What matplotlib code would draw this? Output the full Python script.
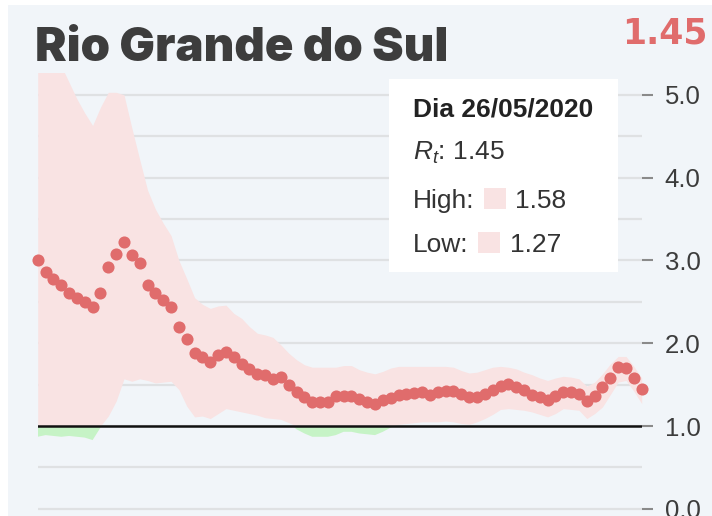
import numpy as np
import pandas as pd
import matplotlib
matplotlib.use('Agg')
import matplotlib.pyplot as plt
from matplotlib.patches import Rectangle

plt.rcParams['font.family'] = ['Liberation Sans', 'DejaVu Sans']
plt.rcParams['mathtext.fontset'] = 'custom'
plt.rcParams['mathtext.it'] = 'Liberation Sans:italic'
plt.rcParams['mathtext.rm'] = 'Liberation Sans'

# Rt estimates per day for Rio Grande do Sul, ending 26/05/2020
rt = [3.00, 2.86, 2.78, 2.70, 2.61, 2.55, 2.50, 2.44, 2.61, 2.92,
      3.08, 3.22, 3.06, 2.97, 2.70, 2.61, 2.52, 2.44, 2.19, 2.05,
      1.88, 1.83, 1.77, 1.86, 1.89, 1.83, 1.75, 1.69, 1.63, 1.61,
      1.57, 1.59, 1.50, 1.41, 1.35, 1.29, 1.29, 1.29, 1.36, 1.36,
      1.36, 1.33, 1.29, 1.26, 1.31, 1.34, 1.37, 1.39, 1.40, 1.41,
      1.37, 1.41, 1.42, 1.42, 1.39, 1.35, 1.35, 1.39, 1.43, 1.48,
      1.51, 1.47, 1.44, 1.38, 1.35, 1.32, 1.36, 1.41, 1.41, 1.39,
      1.30, 1.36, 1.47, 1.58, 1.71, 1.70, 1.58, 1.45]
high = [5.40, 5.40, 5.40, 5.35, 5.15, 4.95, 4.78, 4.63, 4.85, 5.03,
        5.03, 5.00, 4.60, 4.22, 3.85, 3.62, 3.45, 3.30, 3.00, 2.78,
        2.55, 2.47, 2.42, 2.45, 2.46, 2.36, 2.30, 2.20, 2.12, 2.10,
        2.07, 1.98, 1.88, 1.80, 1.74, 1.71, 1.71, 1.71, 1.71, 1.73,
        1.73, 1.68, 1.65, 1.63, 1.66, 1.70, 1.72, 1.72, 1.72, 1.72,
        1.72, 1.72, 1.72, 1.71, 1.67, 1.64, 1.65, 1.68, 1.71, 1.72,
        1.71, 1.69, 1.65, 1.62, 1.58, 1.55, 1.58, 1.60, 1.59, 1.57,
        1.48, 1.53, 1.63, 1.75, 1.84, 1.84, 1.72, 1.58]
low = [0.87, 0.89, 0.88, 0.87, 0.88, 0.87, 0.86, 0.83, 0.98, 1.12,
       1.30, 1.57, 1.54, 1.57, 1.55, 1.52, 1.53, 1.54, 1.44, 1.24,
       1.11, 1.12, 1.09, 1.15, 1.21, 1.19, 1.17, 1.15, 1.13, 1.10,
       1.09, 1.08, 1.04, 0.96, 0.91, 0.87, 0.87, 0.87, 0.89, 0.93,
       0.93, 0.91, 0.90, 0.89, 0.93, 0.98, 1.02, 1.03, 1.04, 1.05,
       1.05, 1.05, 1.06, 1.05, 1.03, 1.02, 1.05, 1.09, 1.14, 1.20,
       1.21, 1.20, 1.19, 1.17, 1.14, 1.11, 1.15, 1.21, 1.20, 1.19,
       1.09, 1.15, 1.23, 1.38, 1.53, 1.55, 1.42, 1.27]
yticks = [0, 1, 2, 3, 4, 5]
title = 'Rio Grande do Sul'
last_day = '26/05/2020'

dates = pd.date_range(end=pd.to_datetime(last_day, dayfirst=True), periods=len(rt))
rt = np.array(rt)
high = np.array(high)
low = np.array(low)

bg = '#f1f5f9'
red = '#e06c6c'
W, H = 712, 516

fig = plt.figure(figsize=(W / 100, H / 100), dpi=100)
fig.patch.set_facecolor('white')
# light panel, leaving a thin white strip at left and top like the screenshot
fig.patches.append(Rectangle((8 / W, 0), 1, 1 - 5 / H, transform=fig.transFigure,
                             facecolor=bg, edgecolor='none', zorder=-10))

ax = fig.add_axes([37.7 / W, 0, 604 / W, (516 - 73) / H])
ax.set_facecolor('none')
ax.set_xlim(dates[0], dates[-1])
ax.set_ylim((508.8 - 516) / 82.8, (508.8 - 73) / 82.8)

for g in np.arange(0, 5.01, 0.5):
    ax.axhline(g, color='#dfe1e3', lw=1.6, zorder=0)

ax.fill_between(dates, np.maximum(low, 1), high, where=high > 1, interpolate=True,
                color='#f9e3e3', lw=0, zorder=1)
ax.fill_between(dates, low, np.minimum(high, 1), where=low < 1, interpolate=True,
                color='#c6f3c6', lw=0, zorder=1)
ax.axhline(1, color='#111111', lw=1.8, zorder=2)
ax.scatter(dates, rt, s=76, color=red, lw=0, zorder=3, clip_on=False)

ax.yaxis.tick_right()
ax.set_yticks(yticks)
ax.set_yticklabels(['%.1f' % t for t in yticks])
ax.tick_params(axis='y', length=8, width=1.5, color='#8a8a8a', pad=8.5,
               labelsize=18.5, labelcolor='#3c3c3c')
ax.set_xticks([])
for s in ax.spines.values():
    s.set_visible(False)

fig.text(35 / W, 1 - 61 / H, title, fontsize=34, fontweight=900,
         family=['Inter', 'DejaVu Sans'], color='#3d3d3d', va='baseline')
fig.text(708 / W, 1 - 43.5 / H, '%.2f' % rt[-1], fontsize=25, fontweight='bold',
         family='DejaVu Sans', color=red, ha='right', va='baseline')

# tooltip box for the last day
fig.patches.append(Rectangle((389 / W, 1 - 272 / H), 229 / W, 193 / H,
                             transform=fig.transFigure, facecolor='white',
                             edgecolor='none', zorder=5))
fs = 19
fig.text(413 / W, 1 - 116.5 / H, 'Dia ' + dates[-1].strftime('%d/%m/%Y'),
         fontsize=fs, fontweight='bold', color='#222222', va='baseline', zorder=6)
fig.text(413 / W, 1 - 160 / H, r'$R_t$: %.2f' % rt[-1], fontsize=fs,
         color='#333333', va='baseline', zorder=6)
fig.text(413 / W, 1 - 208 / H, 'High:', fontsize=fs, color='#333333',
         va='baseline', zorder=6)
fig.text(515 / W, 1 - 208 / H, '%.2f' % high[-1], fontsize=fs, color='#333333',
         va='baseline', zorder=6)
fig.text(413 / W, 1 - 252.5 / H, 'Low:', fontsize=fs, color='#333333',
         va='baseline', zorder=6)
fig.text(510 / W, 1 - 252.5 / H, '%.2f' % low[-1], fontsize=fs, color='#333333',
         va='baseline', zorder=6)
fig.patches.append(Rectangle((484 / W, 1 - 209 / H), 22 / W, 21 / H,
                             transform=fig.transFigure, facecolor='#f9e3e3',
                             edgecolor='none', zorder=6))
fig.patches.append(Rectangle((478 / W, 1 - 253 / H), 22 / W, 21 / H,
                             transform=fig.transFigure, facecolor='#f9e3e3',
                             edgecolor='none', zorder=6))

fig.savefig('out.png', dpi=100, facecolor=fig.get_facecolor())
